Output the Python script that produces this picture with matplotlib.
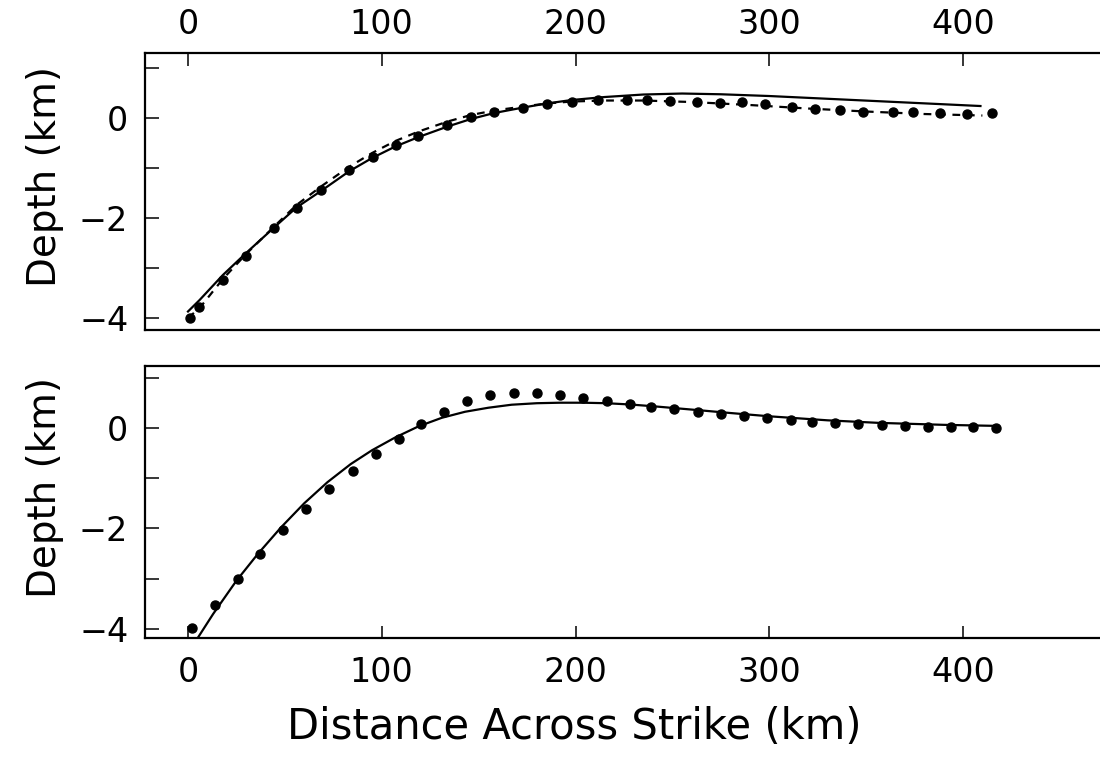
import matplotlib
matplotlib.use("Agg")
import matplotlib.pyplot as plt
from matplotlib.ticker import MultipleLocator

# ---- upper panel: observed points, full model (solid), alt model (dashed)
top_dot_x = [1.0, 5.8, 17.9, 29.8, 44.5, 56.1, 68.5, 83.3, 95.3, 107.1, 118.9,
             133.5, 146.2, 157.9, 173.1, 185.1, 198.0, 211.6, 226.4, 236.7,
             248.8, 262.6, 274.6, 285.8, 297.8, 311.6, 323.6, 336.5, 348.5,
             364.0, 374.3, 388.1, 401.9, 414.8]
top_dot_y = [-4.00, -3.78, -3.24, -2.75, -2.19, -1.79, -1.43, -1.04, -0.77, -0.54,
             -0.36, -0.14, 0.02, 0.12, 0.21, 0.29, 0.33, 0.36, 0.37, 0.37,
             0.34, 0.33, 0.31, 0.33, 0.29, 0.23, 0.19, 0.16, 0.13,
             0.13, 0.12, 0.11, 0.09, 0.10]

top_solid_x = [0, 6, 18, 30, 45, 56, 69, 83, 95, 107, 119, 134, 146, 158, 173,
               185, 198, 215, 235, 255, 275, 300, 330, 360, 390, 409]
top_solid_y = [-3.87, -3.64, -3.14, -2.70, -2.17, -1.79, -1.45, -1.07, -0.80,
               -0.57, -0.38, -0.17, -0.02, 0.10, 0.21, 0.29, 0.36, 0.42, 0.47,
               0.49, 0.475, 0.44, 0.385, 0.33, 0.275, 0.24]

top_dash_x = [0, 6, 18, 30, 45, 56, 69, 83, 95, 107, 119, 134, 146, 158, 173,
              185, 198, 215, 235, 260, 290, 320, 350, 380, 410]
top_dash_y = [-4.00, -3.80, -3.22, -2.72, -2.15, -1.74, -1.36, -0.98, -0.70,
              -0.46, -0.27, -0.07, 0.06, 0.15, 0.23, 0.29, 0.33, 0.35, 0.35,
              0.32, 0.26, 0.19, 0.13, 0.08, 0.05]

# ---- lower panel
bot_dot_x = [2, 14, 26, 37, 49, 61, 73, 85, 97, 109, 120, 132, 144, 156, 168,
             180, 192, 204, 216, 228, 239, 251, 263, 275, 287, 299, 311, 322,
             334, 346, 358, 370, 382, 394, 405, 417]
bot_dot_y = [-3.99, -3.53, -3.01, -2.50, -2.03, -1.61, -1.22, -0.86, -0.52, -0.22,
             0.07, 0.32, 0.54, 0.66, 0.70, 0.69, 0.66, 0.60, 0.54, 0.48, 0.42,
             0.37, 0.31, 0.27, 0.23, 0.19, 0.15, 0.12, 0.09, 0.07, 0.05, 0.03,
             0.02, 0.01, 0.01, 0.00]

bot_line_x = [0, 5, 13, 25, 36, 48, 60, 72, 84, 95, 107, 119, 131, 143, 155,
              167, 180, 192, 204, 216, 228, 240, 252, 264, 280, 300, 330, 356,
              390, 416]
bot_line_y = [-4.50, -4.18, -3.70, -3.04, -2.51, -1.98, -1.50, -1.08, -0.72,
              -0.445, -0.19, 0.03, 0.20, 0.32, 0.40, 0.46, 0.49, 0.50, 0.50,
              0.49, 0.465, 0.43, 0.39, 0.35, 0.295, 0.23, 0.15, 0.10, 0.06, 0.04]

xticks = [0, 100, 200, 300, 400]
xtick_labels = ["0", "100", "200", "300", "400"]

plt.rcParams["font.family"] = "DejaVu Sans"
fig = plt.figure(figsize=(11, 7.63), dpi=100)
ax1 = fig.add_axes([0.1318, 0.5675, 0.8682, 0.363])
ax2 = fig.add_axes([0.1318, 0.1638, 0.8682, 0.3565])

ax1.plot(top_solid_x, top_solid_y, color="black", lw=1.6)
ax1.plot(top_dash_x, top_dash_y, color="black", lw=1.6, linestyle=(0, (3.5, 3)))
ax1.plot(top_dot_x, top_dot_y, "o", color="black", ms=6.5)

ax2.plot(bot_line_x, bot_line_y, color="black", lw=1.6)
ax2.plot(bot_dot_x, bot_dot_y, "o", color="black", ms=6.5)

ax1.set_ylim(-4.24, 1.3)
ax2.set_ylim(-4.18, 1.23)

for ax in (ax1, ax2):
    ax.set_xlim(-22.2, 470.7)
    ax.spines["right"].set_visible(False)
    for s in ("left", "top", "bottom"):
        ax.spines[s].set_linewidth(1.6)
    ax.set_xticks(xticks)
    ax.set_xticklabels(xtick_labels)
    ax.yaxis.set_major_locator(MultipleLocator(2))
    ax.yaxis.set_minor_locator(MultipleLocator(1))
    ax.set_yticks([0, -2, -4])
    ax.set_yticklabels(["0", "\u22122", "\u22124"])
    ax.tick_params(axis="y", which="both", direction="in", length=10, width=1.1,
                   labelsize=24, pad=12, right=False)
    ax.set_ylabel("Depth (km)", fontsize=28, labelpad=11, y=0.555)

ax1.tick_params(axis="x", direction="in", length=9, width=1.1, labelsize=24,
                top=True, bottom=False, labeltop=True, labelbottom=False, pad=9)
ax2.tick_params(axis="x", direction="in", length=9, width=1.1, labelsize=24,
                top=False, bottom=True, pad=13)
ax2.set_xlabel("Distance Across Strike (km)", fontsize=30, labelpad=12, x=0.45)

fig.savefig("out.png", dpi=100)
